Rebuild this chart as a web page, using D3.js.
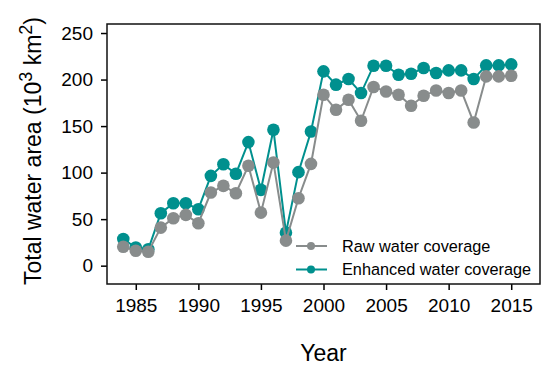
<!DOCTYPE html>
<html>
<head>
<meta charset="utf-8">
<script src="https://cdn.jsdelivr.net/npm/d3@7"></script>
<style>
  body { margin: 0; background: #fff; }
  text { font-family: "Liberation Sans", Arial, sans-serif; fill: #000; }
</style>
</head>
<body>
<div id="chart"></div>
<script>
// Data
var years = d3.range(1984, 2016);
var rawWater = [20.4, 16, 15, 40.9, 51, 54.6, 45.6, 78.6, 85.8, 77.9, 107.3, 57, 110.8, 26.9, 72.5, 109.4,
                183.7, 167.5, 178.3, 155.7, 192, 187.2, 183.7, 171.9, 182.6, 188.3, 185.5, 188.3, 153.9, 203.4, 203.4, 204.1];
var enhancedWater = [28.7, 19.5, 17.6, 56.4, 67, 67, 60.7, 96.5, 109, 98.7, 132.8, 81.5, 146, 35.5, 100.5, 144.2,
                     208.8, 194.5, 200.6, 185.5, 214.9, 214.9, 205.2, 206.3, 212.4, 207, 209.9, 209.9, 200.6, 215.2, 215.2, 216.3];
var xTicks = [1985, 1990, 1995, 2000, 2005, 2010, 2015];
var yTicks = [0, 50, 100, 150, 200, 250];

var seriesNames = ["Raw water coverage", "Enhanced water coverage"];
var seriesColors = ["#888c8c", "#00908e"];

//SVG size
var svgWidth = 550;
var svgHeight = 371;

//Plot box
var margin = {top: 24, right: 10, bottom: 87, left: 107};
var width = svgWidth - margin.left - margin.right;
var height = svgHeight - margin.top - margin.bottom;

var svg = d3.select("#chart")
  .append("svg")
  .attr("width", svgWidth)
  .attr("height", svgHeight);

var g = svg.append("g")
  .attr("transform", `translate(${margin.left},${margin.top})`);

var x = d3.scaleLinear().domain([1982.7, 2017.3]).range([0, width]);
var y = d3.scaleLinear().domain([-19.7, 259.7]).range([height, 0]);

//Axes
var xAxis = g.append("g")
  .attr("transform", `translate(0,${height})`)
  .call(d3.axisBottom(x).tickValues(xTicks).tickFormat(d3.format("d")).tickSize(6).tickPadding(9));
var yAxis = g.append("g")
  .call(d3.axisLeft(y).tickValues(yTicks).tickSize(6).tickPadding(8));

[xAxis, yAxis].forEach(function(a) {
  a.select(".domain").remove();
  a.selectAll("line").attr("stroke", "#000").attr("stroke-width", 1.5);
  a.selectAll("text").style("font-size", "19px").attr("fill", "#000");
});

//Frame
g.append("rect")
  .attr("width", width)
  .attr("height", height)
  .attr("fill", "none")
  .attr("stroke", "#111")
  .attr("stroke-width", 1.5);

//Lines and points, enhanced drawn first so raw sits on top
var allSeries = [rawWater, enhancedWater];
var line = d3.line()
  .x(function(d, i) { return x(years[i]); })
  .y(function(d) { return y(d); });

[1, 0].forEach(function(s) {
  g.append("path")
    .datum(allSeries[s])
    .attr("fill", "none")
    .attr("stroke", seriesColors[s])
    .attr("stroke-width", 2)
    .attr("d", line);
  g.selectAll(".pt" + s)
    .data(allSeries[s])
    .enter()
    .append("circle")
    .attr("class", "pt" + s)
    .attr("cx", function(d, i) { return x(years[i]); })
    .attr("cy", function(d) { return y(d); })
    .attr("r", 6.3)
    .attr("fill", seriesColors[s]);
});

//Legend
var legend = svg.append("g").attr("transform", "translate(296,246)");
seriesNames.forEach(function(name, i) {
  var row = legend.append("g").attr("transform", `translate(0,${i * 23.5})`);
  row.append("line")
    .attr("x1", 0).attr("x2", 31)
    .attr("stroke", seriesColors[i])
    .attr("stroke-width", 2);
  row.append("circle")
    .attr("cx", 15).attr("r", 4)
    .attr("fill", seriesColors[i]);
  row.append("text")
    .attr("x", 46)
    .attr("dy", "0.35em")
    .style("font-size", "16.3px")
    .text(name);
});

//Axis titles
svg.append("text")
  .attr("x", margin.left + width / 2)
  .attr("y", 361)
  .attr("text-anchor", "middle")
  .style("font-size", "23px")
  .text("Year");

var yTitle = svg.append("text")
  .attr("transform", "translate(41,285) rotate(-90)")
  .style("font-size", "23px");
yTitle.append("tspan").text("Total water area (10");
yTitle.append("tspan").attr("dy", -9).style("font-size", "18px").text("3");
yTitle.append("tspan").attr("dy", 9).text(" km");
yTitle.append("tspan").attr("dy", -9).style("font-size", "18px").text("2");
yTitle.append("tspan").attr("dy", 9).text(")");
</script>
</body>
</html>
